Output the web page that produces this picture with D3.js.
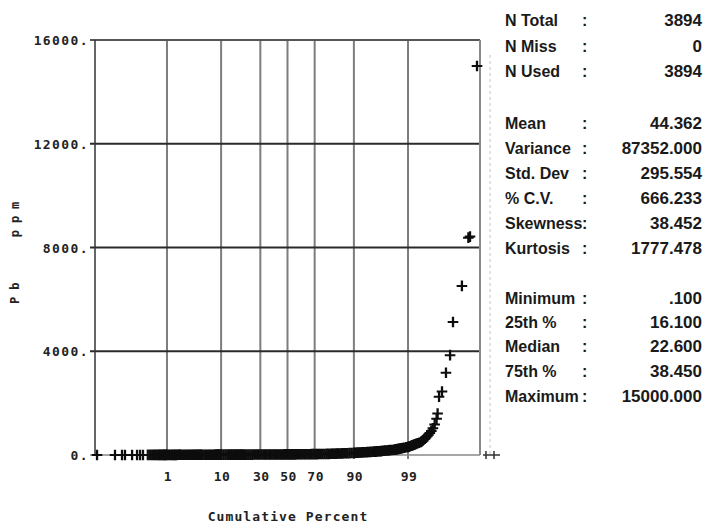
<!DOCTYPE html>
<html><head><meta charset="utf-8">
<script src="https://cdn.jsdelivr.net/npm/d3@7/dist/d3.min.js"></script>
<style>
html,body{margin:0;padding:0;background:#fff;}
svg{display:block;}
.mono{font-family:"DejaVu Sans Mono",monospace;font-weight:bold;font-size:13px;fill:#222;letter-spacing:0.5px;}
.stat{font-family:"Liberation Sans",Arial,sans-serif;font-weight:bold;fill:#1a1a1a;}
</style></head>
<body>
<script>
// ---------- data ----------
const yTicks = [0, 4000, 8000, 12000, 16000];
const yTickLabels = ["0.", "4000.", "8000.", "12000.", "16000."];
const xTicks = [1, 10, 30, 50, 70, 90, 99];
const xTickLabels = ["1", "10", "30", "50", "70", "90", "99"];

// cumulative percent of each plotted observation (sorted)
const cumPercent = [
  0.0118, 0.0434, 0.070, 0.0853, 0.135, 0.184, 0.221, 0.264,
  0.35, 0.4, 0.45, 0.5, 0.55, 0.6, 0.65, 0.7, 0.75, 0.8, 0.85, 0.9, 0.95,
  1.0, 1.1, 1.2, 1.3, 1.4, 1.5, 1.6, 1.7, 1.8, 1.9,
  2.0, 2.2, 2.4, 2.6, 2.8, 3.0, 3.2, 3.4, 3.6, 3.8, 4.0, 4.2, 4.4, 4.6, 4.8,
  5.0, 5.4, 5.8, 6.2, 6.6, 7.0, 7.4, 7.8, 8.2, 8.6, 9.0, 9.4, 9.8,
  10.2, 10.9, 11.6, 12.3, 13.0, 13.7, 14.4, 15.1, 15.8, 16.5, 17.2, 17.9, 18.6, 19.3,
  20, 21.2, 22.4, 23.6, 24.8, 26, 27.2, 28.4, 29.6, 30.8, 32, 33.2, 34.4, 35.6, 36.8,
  38, 39.2, 40.4, 41.6, 42.8, 44, 45.2, 46.4, 47.6, 48.8, 50, 51.2, 52.4, 53.6, 54.8,
  56, 57.2, 58.4, 59.6, 60.8, 62, 63.2, 64.4, 65.6, 66.8, 68, 69.2, 70.4, 71.6, 72.8,
  74, 75.2, 76.4, 77.6, 78.8,
  80, 80.7, 81.4, 82.1, 82.8, 83.5, 84.2, 84.9, 85.6, 86.3, 87, 87.7, 88.4, 89.1, 89.8,
  90.2, 90.6, 91, 91.4, 91.8, 92.2, 92.6, 93, 93.4, 93.8, 94.2, 94.6,
  95, 95.2, 95.4, 95.6, 95.8, 96, 96.2, 96.4, 96.6, 96.8, 97, 97.2, 97.4, 97.6, 97.8,
  98, 98.1, 98.2, 98.3, 98.4, 98.5, 98.6, 98.7, 98.8, 98.9,
  99, 99.05, 99.1, 99.15, 99.2, 99.25, 99.3, 99.35, 99.4, 99.45,
  99.5, 99.525, 99.55, 99.575, 99.6, 99.625, 99.65, 99.675, 99.7, 99.725, 99.75, 99.775, 99.8, 99.812,
  99.828, 99.857, 99.889, 99.915, 99.930, 99.962, 99.976, 99.9787, 99.9873
];
// Pb ppm value of each plotted observation
const ppm = [
  0.1, 0.5, 1, 1, 1.5, 2, 2, 2.5,
  3, 3, 3.5, 3.5, 4, 4, 4, 4.5, 4.5, 5, 5, 5, 5.5,
  5.5, 5.5, 6, 6, 6, 6.5, 6.5, 7, 7, 7,
  7.5, 7.5, 8, 8, 8.5, 8.5, 9, 9, 9, 9.5, 9.5, 10, 10, 10.5, 10.5,
  11, 11, 11.5, 11.5, 12, 12, 12.5, 12.5, 13, 13, 13.2, 13.4, 13.5,
  13.7, 13.9, 14.1, 14.3, 14.5, 14.7, 14.9, 15, 15.2, 15.4, 15.5, 15.6, 15.7, 15.8,
  15.9, 16, 16, 16.1, 16.1, 16.5, 16.9, 17.3, 17.7, 18, 18.3, 18.6, 19, 19.3, 19.6,
  20, 20.3, 20.6, 21, 21.3, 21.6, 21.9, 22.1, 22.3, 22.5, 22.6, 23.2, 23.8, 24.4, 25,
  25.6, 26.2, 26.8, 27.4, 28, 28.6, 29.3, 30, 30.7, 31.4, 32.1, 32.9, 33.8, 34.8, 35.9,
  37.2, 38.6, 40.2, 42, 44,
  46, 47.5, 49, 51, 53, 55, 57.5, 60, 62.5, 65, 67.5, 70, 73, 76, 79,
  82, 85, 88, 91, 94, 97, 100, 104, 108, 112, 116, 120,
  124, 127, 130, 134, 138, 142, 146, 151, 156, 161, 167, 173, 180, 187, 194,
  200, 208, 216, 225, 235, 245, 256, 268, 282, 296,
  310, 325, 340, 355, 372, 390, 410, 430, 452, 475,
  500, 530, 560, 595, 630, 670, 720, 780, 850, 930, 1030, 1180, 1400, 1600,
  2250, 2450, 3170, 3850, 5130, 6520, 8380, 8420, 15000
];

// summary statistics panel
const statLabels = ["N Total", "N Miss", "N Used", "Mean", "Variance", "Std. Dev", "% C.V.",
  "Skewness", "Kurtosis", "Minimum", "25th %", "Median", "75th %", "Maximum"];
const statValues = ["3894", "0", "3894", "44.362", "87352.000", "295.554", "666.233",
  "38.452", "1777.478", ".100", "16.100", "22.600", "38.450", "15000.000"];
const statRowY = [20, 46, 71, 123, 148, 173, 198, 223, 248, 298, 322, 346, 371, 396];

const xTitle = "Cumulative Percent";
const yTitle = "Pb ppm";

// ---------- helpers ----------
// inverse standard normal CDF (Acklam)
function probit(p) {
  const a = [-39.69683028665376, 220.9460984245205, -275.9285104469687, 138.3577518672690, -30.66479806614716, 2.506628277459239];
  const b = [-54.47609879822406, 161.5858368580409, -155.6989798598866, 66.80131188771972, -13.28068155288572];
  const c = [-0.007784894002430293, -0.3223964580411365, -2.400758277161838, -2.549732539343734, 4.374664141464968, 2.938163982698783];
  const d = [0.007784695709041462, 0.3224671290700398, 2.445134137142996, 3.754408661907416];
  const pl = 0.02425;
  let q, r;
  if (p < pl) {
    q = Math.sqrt(-2 * Math.log(p));
    return (((((c[0]*q+c[1])*q+c[2])*q+c[3])*q+c[4])*q+c[5]) / ((((d[0]*q+d[1])*q+d[2])*q+d[3])*q+1);
  } else if (p <= 1 - pl) {
    q = p - 0.5; r = q * q;
    return (((((a[0]*r+a[1])*r+a[2])*r+a[3])*r+a[4])*r+a[5])*q / (((((b[0]*r+b[1])*r+b[2])*r+b[3])*r+b[4])*r+1);
  } else {
    q = Math.sqrt(-2 * Math.log(1 - p));
    return -(((((c[0]*q+c[1])*q+c[2])*q+c[3])*q+c[4])*q+c[5]) / ((((d[0]*q+d[1])*q+d[2])*q+d[3])*q+1);
  }
}

// ---------- chart ----------
const W = 705, H = 523;
const L = 95, R = 480, T = 40, B = 455;
const svg = d3.select("body").append("svg").attr("width", W).attr("height", H);

const z = d3.scaleLinear().domain([-3.716, 3.716]).range([L, R]);
const x = pct => z(probit(pct / 100));
const y = d3.scaleLinear().domain([0, 16000]).range([B, T]);

// vertical probability grid lines
svg.append("g").selectAll("line").data(xTicks).join("line")
  .attr("x1", d => x(d)).attr("x2", d => x(d))
  .attr("y1", T).attr("y2", B + 4)
  .attr("stroke", "#7d7d7d").attr("stroke-width", 2);

// horizontal grid lines
svg.append("g").selectAll("line").data(yTicks.filter(d => d > 0 && d < 16000)).join("line")
  .attr("x1", L - 5).attr("x2", R)
  .attr("y1", d => y(d)).attr("y2", d => y(d))
  .attr("stroke", "#2a2a2a").attr("stroke-width", 2);

// frame
svg.append("line").attr("x1", L - 5).attr("x2", R).attr("y1", y(16000)).attr("y2", y(16000))
  .attr("stroke", "#555").attr("stroke-width", 2);
svg.append("line").attr("x1", L - 5).attr("x2", R).attr("y1", y(0)).attr("y2", y(0))
  .attr("stroke", "#888").attr("stroke-width", 1.5);
svg.append("line").attr("x1", R).attr("x2", R).attr("y1", T).attr("y2", B)
  .attr("stroke", "#8a8a8a").attr("stroke-width", 2);
svg.append("line").attr("x1", L).attr("x2", L).attr("y1", T).attr("y2", B)
  .attr("stroke", "#333").attr("stroke-width", 1.5);

// dotted reference line on the right and its end marker
svg.append("line").attr("x1", 490).attr("x2", 490).attr("y1", 55).attr("y2", B)
  .attr("stroke", "#c4c4c4").attr("stroke-width", 1).attr("stroke-dasharray", "3,3");
svg.append("line").attr("x1", 483).attr("x2", 500).attr("y1", B).attr("y2", B)
  .attr("stroke", "#333").attr("stroke-width", 1.5);
svg.append("path").attr("d", "M486,451V459M494,451V459").attr("stroke", "#333").attr("stroke-width", 1.5);

// y tick labels
svg.append("g").selectAll("text").data(yTicks).join("text")
  .attr("class", "mono")
  .attr("x", 89).attr("y", d => y(d)).attr("dy", "0.4em")
  .attr("text-anchor", "end")
  .style("letter-spacing", "1.4px")
  .text((d, i) => yTickLabels[i]);

// x tick labels
svg.append("g").selectAll("text").data(xTicks).join("text")
  .attr("class", "mono")
  .attr("x", d => x(d) + 1).attr("y", 481)
  .attr("text-anchor", "middle")
  .text((d, i) => xTickLabels[i]);

// axis titles
svg.append("text").attr("class", "mono")
  .attr("x", 288).attr("y", 521).attr("text-anchor", "middle")
  .style("letter-spacing", "1.1px")
  .text(xTitle);
svg.append("text").attr("class", "mono")
  .attr("transform", "translate(19,304) rotate(-90)")
  .attr("text-anchor", "start")
  .style("font-size", "12px").style("letter-spacing", "7px").style("word-spacing", "24px")
  .text(yTitle);

// observations: "+" markers
const plus = {
  draw(ctx) {
    const h = 5.3, tv = 1.15, th = 1.0;
    ctx.rect(-h, -th, 2 * h, 2 * th);
    ctx.rect(-tv, -h, 2 * tv, 2 * h);
  }
};
const pts = cumPercent.map((p, i) => ({p, v: ppm[i]}));
const sym = d3.symbol().type(plus);
svg.append("g").selectAll("path").data(pts).join("path")
  .attr("d", sym)
  .attr("transform", d => `translate(${x(d.p)},${y(d.v)})`)
  .attr("fill", "#0d0d0d");

// statistics panel
const sg = svg.append("g");
sg.selectAll("text.lab").data(statLabels).join("text")
  .attr("class", "stat lab").attr("x", 505).attr("y", (d, i) => statRowY[i]).attr("dy", "0.36em")
  .style("font-size", "16px")
  .text(d => d);
sg.selectAll("text.col").data(statLabels).join("text")
  .attr("class", "stat col").attr("x", 582).attr("y", (d, i) => statRowY[i]).attr("dy", "0.36em")
  .style("font-size", "16px")
  .text(":");
sg.selectAll("text.val").data(statValues).join("text")
  .attr("class", "stat val").attr("x", 702).attr("y", (d, i) => statRowY[i]).attr("dy", "0.36em")
  .attr("text-anchor", "end")
  .style("font-size", "17px")
  .text(d => d);
</script>
</body></html>
